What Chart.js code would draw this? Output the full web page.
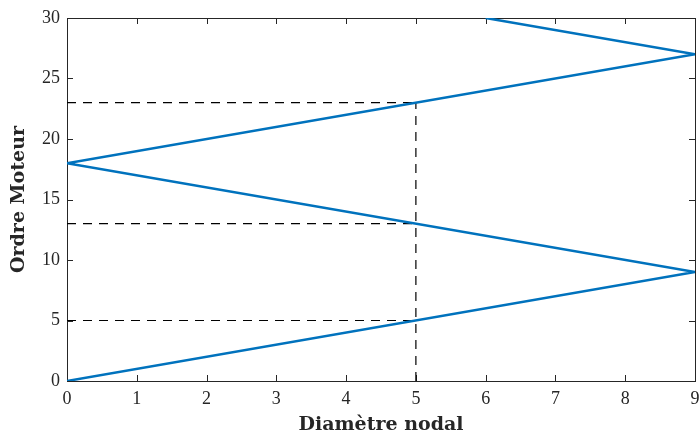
<!DOCTYPE html>
<html lang="fr">
<head>
<meta charset="UTF-8">
<title>Ordre Moteur / Diamètre nodal</title>
<style>
  html, body { margin: 0; padding: 0; background: #fff; }
  #wrap { width: 700px; height: 436px; }
</style>
</head>
<body>
<div id="wrap"><canvas id="chart" width="700" height="436"></canvas></div>
<script src="https://cdn.jsdelivr.net/npm/chart.js"></script>
<script>
// zigzag: diametre nodal vs ordre moteur
const diametre = [0, 9, 0, 9, 6];
const ordre = [0, 9, 18, 27, 30];

// pointilles de lecture a diametre 5
const lectureOrdres = [5, 13, 23];
const lectureDiam = 5;

const xTicks = [0, 1, 2, 3, 4, 5, 6, 7, 8, 9];
const yTicks = [0, 5, 10, 15, 20, 25, 30];

const zigzag = diametre.map((d, i) => ({ x: d, y: ordre[i] }));

const dashSets = lectureOrdres.map(o => ({
  data: [{ x: 0, y: o }, { x: lectureDiam, y: o }],
  borderColor: '#000',
  borderWidth: 1.2,
  borderDash: [9, 7],
  pointRadius: 0,
  fill: false
}));
dashSets.push({
  data: [{ x: lectureDiam, y: 0 }, { x: lectureDiam, y: Math.max(...lectureOrdres) }],
  borderColor: '#000',
  borderWidth: 1.2,
  borderDash: [9, 7],
  pointRadius: 0,
  fill: false
});

// cadre + graduations vers l'interieur (style matlab)
const boxPlugin = {
  id: 'box',
  beforeDatasetsDraw(chart) {
    const { ctx, chartArea: a, scales } = chart;
    ctx.save();
    ctx.strokeStyle = '#262626';
    ctx.lineWidth = 1;
    const tl = 6;
    ctx.beginPath();
    xTicks.forEach(t => {
      const px = Math.round(scales.x.getPixelForValue(t)) + 0.5;
      ctx.moveTo(px, a.bottom); ctx.lineTo(px, a.bottom - tl);
      ctx.moveTo(px, a.top); ctx.lineTo(px, a.top + tl);
    });
    yTicks.forEach(t => {
      const py = Math.round(scales.y.getPixelForValue(t)) + 0.5;
      ctx.moveTo(a.left, py); ctx.lineTo(a.left + tl, py);
      ctx.moveTo(a.right, py); ctx.lineTo(a.right - tl, py);
    });
    ctx.stroke();
    ctx.strokeRect(Math.round(a.left) + 0.5, Math.round(a.top) + 0.5,
      Math.round(a.right - a.left), Math.round(a.bottom - a.top));
    ctx.restore();
  }
};

const tickFont = { family: 'Liberation Serif', size: 18 };
const titleFont = { family: 'DejaVu Serif', size: 19, weight: 'bold', lineHeight: 1 };

new Chart(document.getElementById('chart'), {
  type: 'line',
  data: {
    datasets: [{
      data: zigzag,
      borderColor: '#0072BD',
      borderWidth: 2.5,
      pointRadius: 0,
      fill: false,
      tension: 0
    }].concat(dashSets)
  },
  options: {
    responsive: false,
    animation: false,
    devicePixelRatio: 1,
    layout: { padding: { top: 18, right: 5, left: 0, bottom: 0 } },
    plugins: { legend: { display: false }, tooltip: { enabled: false } },
    scales: {
      x: {
        type: 'linear',
        min: 0, max: 9,
        afterBuildTicks: s => { s.ticks = xTicks.map(v => ({ value: v })); },
        afterFit: s => { s.height = 55; s.paddingLeft = 0; s.paddingRight = 0; },
        grid: { display: false, drawTicks: false },
        border: { display: false },
        ticks: { font: tickFont, color: '#262626', padding: 7, maxRotation: 0 },
        title: { display: true, text: 'Diamètre nodal', font: titleFont, color: '#262626', padding: { top: 0, bottom: 1 } }
      },
      y: {
        type: 'linear',
        min: 0, max: 30,
        afterBuildTicks: s => { s.ticks = yTicks.map(v => ({ value: v })); },
        afterFit: s => { s.width = 67; s.paddingTop = 0; s.paddingBottom = 0; },
        grid: { display: false, drawTicks: false },
        border: { display: false },
        ticks: { font: tickFont, color: '#262626', padding: 7 },
        title: { display: true, text: 'Ordre Moteur', font: titleFont, color: '#262626', padding: { top: 10, bottom: 0 } }
      }
    }
  },
  plugins: [boxPlugin]
});
</script>
</body>
</html>
